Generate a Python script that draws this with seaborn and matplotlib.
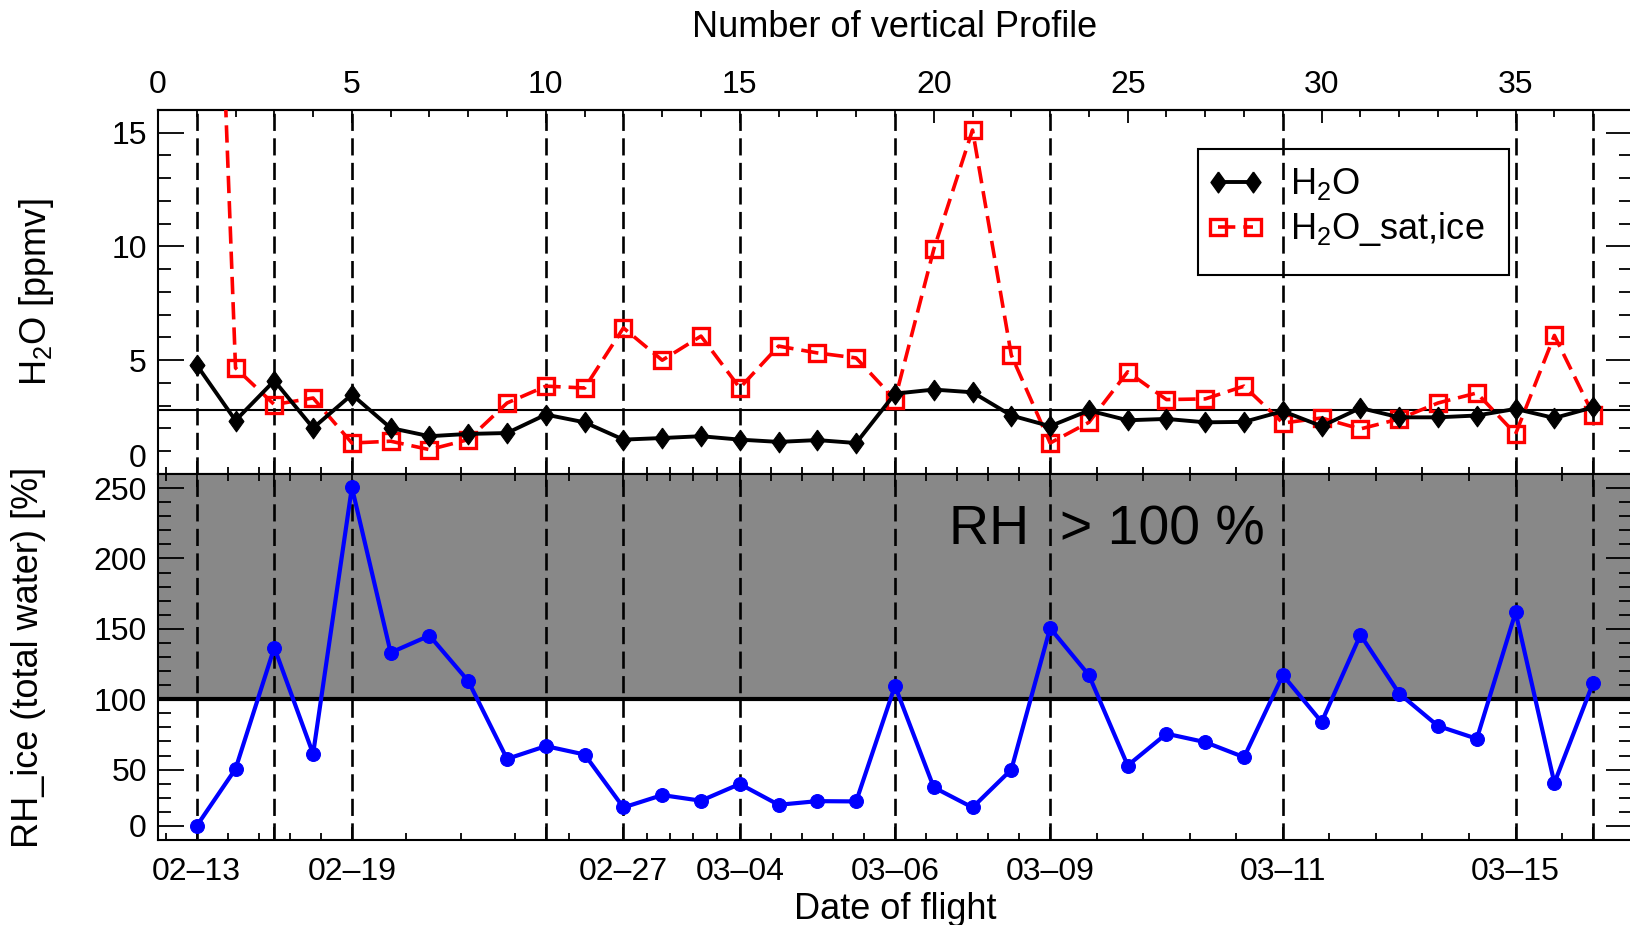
import numpy as np
import pandas as pd
import matplotlib
matplotlib.use("Agg")
import matplotlib.pyplot as plt
import seaborn as sns
from matplotlib.ticker import FixedLocator, FixedFormatter, MultipleLocator, NullFormatter
from matplotlib.patches import Rectangle
from matplotlib.lines import Line2D

# ---------------- data ----------------
profiles = list(range(1, 38))
h2o = [4.79, 2.35, 4.10, 2.02, 3.49, 2.02, 1.66, 1.76, 1.80, 2.61, 2.27, 1.51, 1.58,
       1.66, 1.51, 1.41, 1.49, 1.36, 3.53, 3.71, 3.59, 2.57, 2.10, 2.79, 2.36, 2.42,
       2.27, 2.29, 2.76, 2.10, 2.90, 2.49, 2.49, 2.57, 2.86, 2.46, 2.93]
h2o_sat_ice = [50.0, 4.66, 3.05, 3.34, 1.36, 1.44, 1.07, 1.51, 3.12, 3.86, 3.78, 6.42, 5.00,
               6.06, 3.78, 5.62, 5.32, 5.10, 3.27, 9.87, 15.12, 5.22, 1.36, 2.27, 4.49, 3.27,
               3.30, 3.86, 2.24, 2.46, 1.98, 2.42, 3.12, 3.56, 1.76, 6.09, 2.61]
rh_ice = [10.0, 50.5, 136.7, 61.2, 250.5, 133.1, 145.2, 112.9, 57.6, 66.7, 60.7, 23.1, 31.9,
          27.9, 39.8, 25.0, 27.6, 27.4, 109.5, 37.4, 23.1, 50.0, 150.5, 117.1, 52.9, 75.5,
          69.5, 58.8, 117.1, 83.8, 145.7, 104.0, 81.0, 71.9, 161.7, 40.5, 111.7]
h2o_ref_level = 2.8
rh_threshold = 100
flight_lines = [1, 3, 5, 10, 12, 15, 19, 23, 29, 35, 37]
date_pos = [1, 5, 12, 15, 19, 23, 29, 35]
date_labels = ["02\u201313", "02\u201319", "02\u201327", "03\u201304",
               "03\u201306", "03\u201309", "03\u201311", "03\u201315"]
profile_ticks = [0, 5, 10, 15, 20, 25, 30, 35]
h2o_ticks = [0, 5, 10, 15]
rh_tick_pos = [10, 50, 100, 150, 200, 250]
rh_tick_labels = ["0", "50", "100", "150", "200", "250"]

df = pd.DataFrame({"profile": profiles, "h2o": h2o, "sat": h2o_sat_ice, "rh": rh_ice})

# ---------------- style ----------------
sns.set_theme(style="ticks")
plt.rcParams["font.family"] = ["Liberation Sans", "DejaVu Sans"]
plt.rcParams["mathtext.fontset"] = "custom"
plt.rcParams["mathtext.rm"] = "Liberation Sans"
plt.rcParams["mathtext.it"] = "Liberation Sans"
plt.rcParams["axes.linewidth"] = 1.5
for k in ["text.color", "axes.labelcolor", "xtick.color", "ytick.color",
          "axes.edgecolor", "xtick.labelcolor", "ytick.labelcolor"]:
    plt.rcParams[k] = "black"

TICK = 23
LAB = 26

fig = plt.figure(figsize=(16.3, 9.25), dpi=100)
ax1 = fig.add_axes([0.0969, 0.4876, 0.9043, 0.3935])
ax2 = fig.add_axes([0.0969, 0.0919, 0.9043, 0.3957])

XMAX = 38
dash_v = (0, (6.5, 2.8))
red_dash = (0, (4.8, 2.2))

# minor date ticks: 5 subdivisions between labelled dates
minor_dates = [date_pos[0] - (date_pos[1] - date_pos[0]) / 5]
for a, b in zip(date_pos[:-1], date_pos[1:]):
    minor_dates += list(np.linspace(a, b, 6)[1:-1])
minor_dates += [date_pos[-1] + 1.2]

diamond = [(0, 1), (0.72, 0), (0, -1), (-0.72, 0), (0, 1)]

# ---------------- top panel ----------------
for xv in flight_lines:
    ax1.axvline(xv, color="black", lw=1.9, linestyle=dash_v, zorder=1.5)
ax1.axhline(h2o_ref_level, color="black", lw=1.5, zorder=2)

sns.lineplot(data=df, x="profile", y="sat", ax=ax1, color="red", linewidth=2.6,
             linestyle=red_dash, marker="s", markersize=11.5,
             markerfacecolor="none", markeredgecolor="red", markeredgewidth=2.4,
             zorder=3, legend=False)
sns.lineplot(data=df, x="profile", y="h2o", ax=ax1, color="black", linewidth=2.8,
             marker=diamond, markersize=15, markerfacecolor="black",
             markeredgecolor="black", zorder=4, legend=False)

ax1.set_xlim(0, XMAX)
ax1.set_ylim(0, 16)
ax1.set_xlabel("")
ax1.set_ylabel(r"H$_2$O [ppmv]", fontsize=LAB, va="center")
ax1.yaxis.set_label_coords(-0.0822, 0.5)
ax1.yaxis.set_major_locator(FixedLocator(h2o_ticks))
ax1.yaxis.set_minor_locator(MultipleLocator(1))
ax1.xaxis.set_major_locator(FixedLocator(flight_lines))
ax1.xaxis.set_minor_locator(FixedLocator(minor_dates))
ax1.xaxis.set_major_formatter(NullFormatter())
ax1.tick_params(axis="y", which="both", direction="in", left=True, right=True,
                labelsize=TICK, pad=8, width=1.3)
ax1.tick_params(axis="y", which="major", length=19)
ax1.tick_params(axis="y", which="minor", length=9.5)
ax1.tick_params(axis="x", which="both", direction="in", bottom=True, top=False,
                labelbottom=False, width=1.3)
ax1.tick_params(axis="x", which="major", length=9.5)
ax1.tick_params(axis="x", which="minor", length=4.7)

sec = ax1.secondary_xaxis("top")
sec.xaxis.set_major_locator(FixedLocator(profile_ticks))
sec.xaxis.set_minor_locator(MultipleLocator(1))
sec.tick_params(axis="x", which="both", direction="in", labelsize=TICK, pad=7, width=1.3)
sec.tick_params(axis="x", which="major", length=9.5)
sec.tick_params(axis="x", which="minor", length=4.7)
sec.set_xlabel("Number of vertical Profile", fontsize=LAB, labelpad=24)
sec.spines["top"].set_linewidth(1.5)

# "0" label sits above the axis bottom, clear of the lower panel's "250"
for t in ax1.yaxis.get_major_ticks()[:1]:
    t.label1.set_verticalalignment("bottom")

# legend
leg_handles = [
    Line2D([0], [0], color="black", lw=2.8, marker=diamond, markersize=15,
           markerfacecolor="black", markeredgecolor="black"),
    Line2D([0], [0], color="red", lw=2.6, linestyle=red_dash, marker="s",
           markersize=11.5, markerfacecolor="none", markeredgecolor="red",
           markeredgewidth=2.4),
]
ax1.legend(leg_handles, [r"H$_2$O", r"H$_2$O_sat,ice"], loc="upper left",
           bbox_to_anchor=(0.712, 0.845), frameon=False, fontsize=LAB,
           numpoints=2, handlelength=1.55, handletextpad=0.75, labelspacing=0.22,
           borderpad=0, borderaxespad=0)
ax1.add_patch(Rectangle((0.7058, 0.548), 0.2106, 0.344, transform=ax1.transAxes,
                        fill=False, edgecolor="black", lw=1.5, zorder=5))

# ---------------- bottom panel ----------------
ax2.axhspan(rh_threshold, 260, color="#888888", zorder=0, lw=0)
for xv in flight_lines:
    ax2.axvline(xv, color="black", lw=1.9, linestyle=dash_v, zorder=1.5)
ax2.axhline(rh_threshold, color="black", lw=3, zorder=2)

sns.lineplot(data=df, x="profile", y="rh", ax=ax2, color="#0000ff", linewidth=3.0,
             marker="o", markersize=10, markeredgecolor="#0000ff", zorder=4,
             legend=False)

ax2.text(20.4, 220, "RH  > 100 %", fontsize=40, va="center", ha="left", zorder=3)

ax2.set_xlim(0, XMAX)
ax2.set_ylim(0, 260)
ax2.set_ylabel("RH_ice (total water) [%]", fontsize=LAB, va="center")
ax2.yaxis.set_label_coords(-0.0876, 0.5)
ax2.set_xlabel("Date of flight", fontsize=LAB, labelpad=4)
ax2.yaxis.set_major_locator(FixedLocator(rh_tick_pos))
ax2.yaxis.set_major_formatter(FixedFormatter(rh_tick_labels))
ax2.yaxis.set_minor_locator(MultipleLocator(10))
ax2.xaxis.set_major_locator(FixedLocator(flight_lines))
ax2.xaxis.set_major_formatter(FixedFormatter(
    [date_labels[date_pos.index(p)] if p in date_pos else "" for p in flight_lines]))
ax2.xaxis.set_minor_locator(FixedLocator(minor_dates))
ax2.tick_params(axis="y", which="both", direction="in", left=True, right=True,
                labelsize=TICK, pad=8, width=1.3)
ax2.tick_params(axis="y", which="major", length=19)
ax2.tick_params(axis="y", which="minor", length=9.5)
ax2.tick_params(axis="x", which="both", direction="in", bottom=True, top=True,
                labelsize=TICK, pad=12, width=1.3)
ax2.tick_params(axis="x", which="major", length=9.5)
ax2.tick_params(axis="x", which="minor", length=4.7)

for ax in (ax1, ax2):
    for s in ax.spines.values():
        s.set_linewidth(1.5)
        s.set_color("black")

fig.savefig("out.png", dpi=100)
